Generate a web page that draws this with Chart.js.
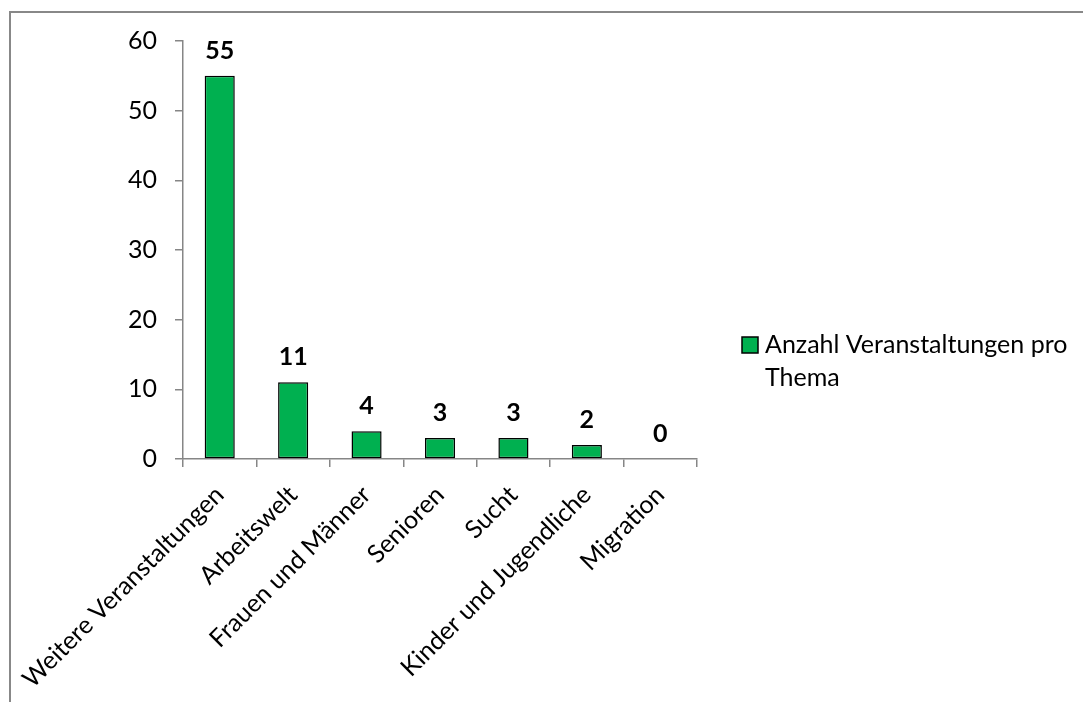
<!DOCTYPE html>
<html>
<head>
<meta charset="utf-8">
<script src="https://cdn.jsdelivr.net/npm/chart.js@4.4.1/dist/chart.umd.min.js"></script>
<style>
    body { margin: 0; background: #fff; }
    #wrap { position: relative; width: 1083px; height: 702px; overflow: hidden; }
    #frame { position: absolute; left: 9px; top: 11px; width: 1200px; height: 800px; border: 2px solid #888888; }
    #box { position: absolute; left: 0; top: 0; width: 1083px; height: 702px; }
</style>
</head>
<body>
<div id="wrap">
    <div id="frame"></div>
    <div id="box"><canvas id="myChart"></canvas></div>
</div>
<script>
const categorias = ['Weitere Veranstaltungen', 'Arbeitswelt', 'Frauen und Männer', 'Senioren', 'Sucht', 'Kinder und Jugendliche', 'Migration'];
const anzahl = [55, 11, 4, 3, 3, 2, 0];
const serieLabel = 'Anzahl Veranstaltungen pro Thema';
const yMin = 0;
const yMax = 60;
const yStep = 10;

const schrift = 'Lato, "Open Sans", sans-serif';
const grau = '#868686';
const gruen = '#00B050';

// Werte über den Balken
const wertePlugin = {
    id: 'werte',
    afterDatasetsDraw(chart) {
        const ctx = chart.ctx;
        const meta = chart.getDatasetMeta(0);
        ctx.save();
        ctx.font = 'bold 25px ' + schrift;
        ctx.fillStyle = '#000';
        ctx.textAlign = 'center';
        ctx.textBaseline = 'middle';
        meta.data.forEach((bar, i) => {
            ctx.fillText(String(chart.data.datasets[0].data[i]), bar.x, bar.y - 25);
        });
        ctx.restore();
    }
};

// Legende rechts, mit Zeilenumbruch
const legendePlugin = {
    id: 'legende',
    afterDraw(chart) {
        const ctx = chart.ctx;
        const ds = chart.data.datasets[0];
        const x = chart.chartArea.right + 45;
        const y = 345;
        ctx.save();
        ctx.font = '25px ' + schrift;
        const maxBreite = 305;
        const worte = ds.label.split(' ');
        const zeilen = [];
        let zeile = '';
        worte.forEach(w => {
            const test = zeile ? zeile + ' ' + w : w;
            if (ctx.measureText(test).width > maxBreite && zeile) {
                zeilen.push(zeile);
                zeile = w;
            } else {
                zeile = test;
            }
        });
        zeilen.push(zeile);
        ctx.fillStyle = ds.backgroundColor;
        ctx.strokeStyle = '#000';
        ctx.lineWidth = 1.5;
        ctx.fillRect(x, y - 8, 16, 16);
        ctx.strokeRect(x, y - 8, 16, 16);
        ctx.fillStyle = '#000';
        ctx.textAlign = 'left';
        ctx.textBaseline = 'middle';
        zeilen.forEach((z, i) => {
            ctx.fillText(z, x + 23, y + i * 33);
        });
        ctx.restore();
    }
};

const config = {
    type: 'bar',
    data: {
        labels: categorias,
        datasets: [{
            label: serieLabel,
            data: anzahl,
            backgroundColor: gruen,
            borderColor: '#000',
            borderWidth: 1.5,
            borderSkipped: false,
            categoryPercentage: 1,
            barPercentage: 0.41
        }]
    },
    options: {
        responsive: true,
        maintainAspectRatio: false,
        animation: false,
        layout: { padding: { left: 0, top: 41, right: 386, bottom: 0 } },
        plugins: {
            legend: { display: false },
            tooltip: { enabled: false }
        },
        scales: {
            x: {
                afterFit(scale) { scale.height = 702 - 459; },
                grid: { display: true, drawOnChartArea: false, offset: true, tickLength: 8, color: grau, lineWidth: 1.5 },
                border: { color: grau, width: 1.5 },
                ticks: { color: '#000', font: { family: schrift, size: 25 }, minRotation: 45, maxRotation: 45, padding: 13 }
            },
            y: {
                min: yMin,
                max: yMax,
                afterFit(scale) { scale.width = 183; },
                grid: { display: true, drawOnChartArea: false, tickLength: 8, color: grau, lineWidth: 1.5 },
                border: { color: grau, width: 1.5 },
                ticks: { stepSize: yStep, color: '#000', font: { family: schrift, size: 25 }, padding: 18 }
            }
        }
    },
    plugins: [wertePlugin, legendePlugin]
};

const myChart = new Chart(document.getElementById('myChart'), config);
</script>
</body>
</html>
